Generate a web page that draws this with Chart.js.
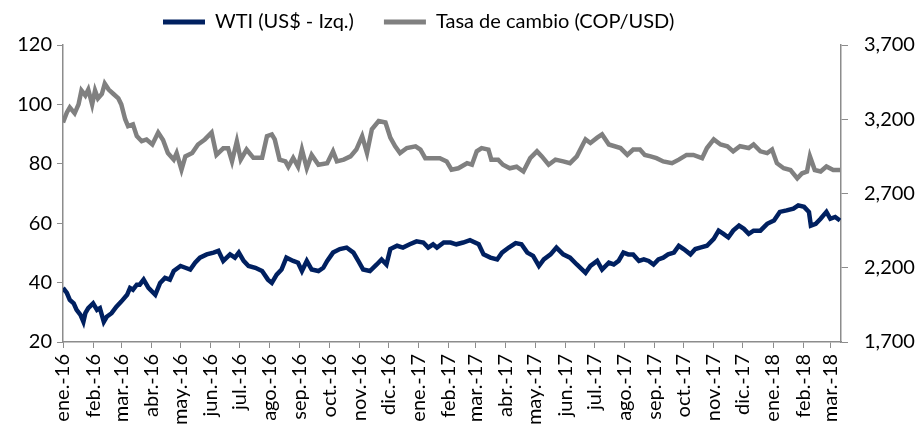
<!DOCTYPE html>
<html>
<head>
<meta charset="utf-8">
<script src="https://cdn.jsdelivr.net/npm/chart.js@4/dist/chart.umd.min.js"></script>
<style>
  html, body { margin: 0; padding: 0; background: #fff; }
  #cont { width: 921px; height: 428px; }
</style>
</head>
<body>
<div id="cont"><canvas id="a" width="921" height="428"></canvas></div>
<script>
// etiquetas de meses (eje X)
const meses = ["ene.-16", "feb.-16", "mar.-16", "abr.-16", "may.-16", "jun.-16", "jul.-16", "ago.-16",
  "sep.-16", "oct.-16", "nov.-16", "dic.-16", "ene.-17", "feb.-17", "mar.-17", "abr.-17", "may.-17",
  "jun.-17", "jul.-17", "ago.-17", "sep.-17", "oct.-17", "nov.-17", "dic.-17", "ene.-18", "feb.-18", "mar.-18"];

// dias desde 1-ene-2016
const diasWti = [
  0, 4, 7, 11, 14, 18, 21, 23, 26, 31,
  35, 38, 42, 45, 50, 55, 60, 66, 69, 72,
  76, 79, 83, 88, 95, 100, 105, 110, 114, 121,
  126, 131, 136, 141, 148, 155, 160, 165, 172, 177,
  181, 186, 191, 198, 205, 211, 215, 220, 225, 230,
  237, 242, 246, 251,
  256, 263, 268, 272, 278, 285, 292, 299, 304, 309,
  316, 323, 328, 333, 337, 344, 350, 357, 364, 371,
  376, 381, 385, 392, 399, 405, 412, 419, 428, 433,
  440, 447, 452, 459, 466, 472, 478, 484, 490, 495,
  502, 508, 515, 522, 529, 538, 543, 550, 555, 562,
  567, 572, 577, 582, 587, 593, 598, 603, 608, 613,
  618, 623, 629, 634, 639, 646, 651, 656, 663, 670,
  675, 680, 685, 690, 696, 701, 706, 711, 718, 725,
  732, 738, 745, 752, 757, 763, 768, 770, 775, 780,
  786, 790, 795, 800];
const wti = [
  38.2, 36.5, 34.2, 33, 30.8, 29.1, 26.8, 29.7, 31.4, 33,
  30.8, 31.4, 26.8, 28.5, 29.7, 31.9, 33.6, 35.9, 38.2, 37.6,
  39.3, 39.3, 41, 38.2, 35.9, 39.9, 41.6, 41, 43.9, 45.6,
  45, 44.4, 46.7, 48.4, 49.5, 50.1, 50.7, 47.3, 49.5, 48.4,
  50.1, 47.3, 45.6, 45, 43.9, 41, 39.9, 42.7, 44.4, 48.4,
  47.3, 46.7, 43.9, 47.3,
  44.4, 43.9, 45, 47.3, 50.1, 51.3, 51.8, 50.1, 47.3, 44.4,
  43.9, 46.1, 47.8, 46.1, 51.3, 52.4, 51.8, 52.9, 53.9, 53.5,
  51.8, 52.9, 51.8, 53.5, 53.5, 52.9, 53.5, 54.3, 52.9, 49.5,
  48.4, 47.8, 50.1, 51.8, 53.3, 52.9, 50.1, 49, 45.6, 47.8,
  49.5, 51.8, 49.5, 48.4, 46.1, 43.3, 45.6, 47.3, 44.4, 46.7,
  46.1, 47.3, 50.1, 49.5, 49.5, 47.3, 47.8, 47.3, 46.1, 47.8,
  48.4, 49.5, 50.1, 52.4, 51.3, 49.5, 51.3, 51.8, 52.4, 54.7,
  57.5, 56.4, 55.2, 57.5, 59.2, 58.1, 56.4, 57.5, 57.5, 59.8,
  60.9, 63.8, 64.3, 64.9, 66, 65.5, 63.8, 59.2, 59.8, 61.5,
  63.8, 61.5, 62.1, 60.9];

const diasTasa = [
  0, 4, 7, 12, 16, 19, 23, 26, 30, 33,
  36, 40, 43, 47, 52, 57, 60, 64, 67, 72,
  76, 81, 86, 92, 98, 103, 108, 114, 117, 122,
  126, 133, 139, 146, 153, 158, 165, 170, 174, 179,
  183, 189, 196, 205, 210, 215, 218, 223, 229, 232,
  237, 242, 246, 251, 256, 263, 272, 278, 282, 289,
  296, 302, 308, 313, 318, 325, 332, 337, 342, 347,
  354, 363, 368, 373, 380, 388, 395, 400, 407, 416,
  421, 426, 431, 438, 441, 448, 453, 460, 467, 474,
  481, 488, 493, 500, 507, 515, 522, 529, 536, 538,
  543, 550, 555, 562, 574, 581, 587, 594, 599, 605,
  611, 618, 627, 634, 642, 649, 658, 663, 670, 677,
  684, 690, 697, 706, 711, 718, 725, 730, 735, 742,
  749, 756, 761, 766, 769, 774, 780, 786, 793, 800];
const tasa = [
  3178, 3246, 3280, 3240, 3300, 3394, 3360, 3400, 3300, 3394,
  3340, 3370, 3440, 3400, 3370, 3340, 3300, 3200, 3154, 3166,
  3086, 3052, 3064, 3030, 3110, 3060, 2972, 2928, 2972, 2860,
  2950, 2972, 3030, 3064, 3110, 2960, 3004, 3004, 2916, 3052,
  2928, 2996, 2940, 2940, 3086, 3098, 3064, 2928, 2916, 2880,
  2940, 2880, 2996, 2870, 2960, 2894, 2904, 2984, 2916, 2928,
  2950, 2996, 3086, 2972, 3132, 3188, 3178, 3076, 3018, 2972,
  3006, 3018, 2996, 2938, 2938, 2938, 2916, 2860, 2870, 2904,
  2894, 2984, 3006, 2996, 2928, 2928, 2894, 2870, 2880, 2848,
  2938, 2984, 2950, 2894, 2928, 2916, 2904, 2950, 3040, 3064,
  3040, 3076, 3098, 3030, 3006, 2960, 2996, 2996, 2960, 2950,
  2938, 2916, 2904, 2928, 2960, 2960, 2938, 3006, 3064, 3030,
  3018, 2984, 3018, 3006, 3030, 2984, 2972, 2996, 2904, 2870,
  2858, 2802, 2836, 2848, 2950, 2858, 2848, 2882, 2858, 2858];

// inicio de cada mes en dias desde 1-ene-2016
const inicioMes = meses.map((m, i) =>
  (Date.UTC(2016 + Math.floor(i / 12), i % 12, 1) - Date.UTC(2016, 0, 1)) / 864e5);

const azul = "#002060";
const gris = "#808080";
const ejeColor = "#8c8c8c";
const fuente = { family: "Lato", size: 20 };

const moverLeyenda = {
  id: "moverLeyenda",
  afterLayout(chart) {
    chart.legend.left += 133;
    chart.legend.top -= 18;
  },
};

new Chart(document.querySelector("#a").getContext("2d"), {
  type: "line",
  data: {
    datasets: [
      {
        label: "WTI (US$ - Izq.)",
        data: diasWti.map((d, i) => ({ x: d, y: wti[i] })),
        borderColor: azul,
        backgroundColor: azul,
        borderWidth: 4.5,
        pointRadius: 0,
        yAxisID: "y",
      },
      {
        label: "Tasa de cambio (COP/USD)",
        data: diasTasa.map((d, i) => ({ x: d, y: tasa[i] })),
        borderColor: gris,
        backgroundColor: gris,
        borderWidth: 4.5,
        pointRadius: 0,
        yAxisID: "y1",
      },
    ],
  },
  options: {
    responsive: false,
    animation: false,
    devicePixelRatio: 1,
    layout: { padding: 0 },
    plugins: {
      legend: {
        position: "top",
        align: "start",
        maxHeight: 45,
        labels: {
          color: "#000",
          font: fuente,
          boxWidth: 42,
          boxHeight: 5,
          padding: 30,
          generateLabels(chart) {
            return Chart.defaults.plugins.legend.labels.generateLabels(chart)
              .map((it) => ({ ...it, lineWidth: 0 }));
          },
        },
      },
      tooltip: { enabled: false },
    },
    scales: {
      x: {
        type: "linear",
        min: 0,
        max: 801,
        afterBuildTicks(scale) {
          scale.ticks = inicioMes.map((v) => ({ value: v }));
        },
        afterFit(scale) { scale.height = 86; },
        ticks: {
          autoSkip: false,
          minRotation: 90,
          maxRotation: 90,
          padding: 6,
          color: "#000",
          font: fuente,
          callback: (v, i) => meses[i],
        },
        grid: {
          drawOnChartArea: false,
          drawTicks: true,
          tickLength: 6,
          color: ejeColor,
        },
        border: { color: ejeColor, width: 1.5 },
      },
      y: {
        position: "left",
        min: 20,
        max: 120,
        afterFit(scale) { scale.width = 63; },
        ticks: { stepSize: 20, color: "#000", font: fuente, padding: 5 },
        grid: { drawOnChartArea: false, tickLength: 6, color: ejeColor },
        border: { color: ejeColor, width: 1.5 },
      },
      y1: {
        position: "right",
        min: 1700,
        max: 3700,
        afterFit(scale) { scale.width = 80; },
        ticks: {
          stepSize: 500,
          color: "#000",
          font: fuente,
          padding: 16,
          callback: (v) => v.toLocaleString("en-US"),
        },
        grid: { drawOnChartArea: false, tickLength: 7, color: ejeColor },
        border: { color: ejeColor, width: 1.5 },
      },
    },
  },
  plugins: [moverLeyenda],
});
</script>
</body>
</html>
